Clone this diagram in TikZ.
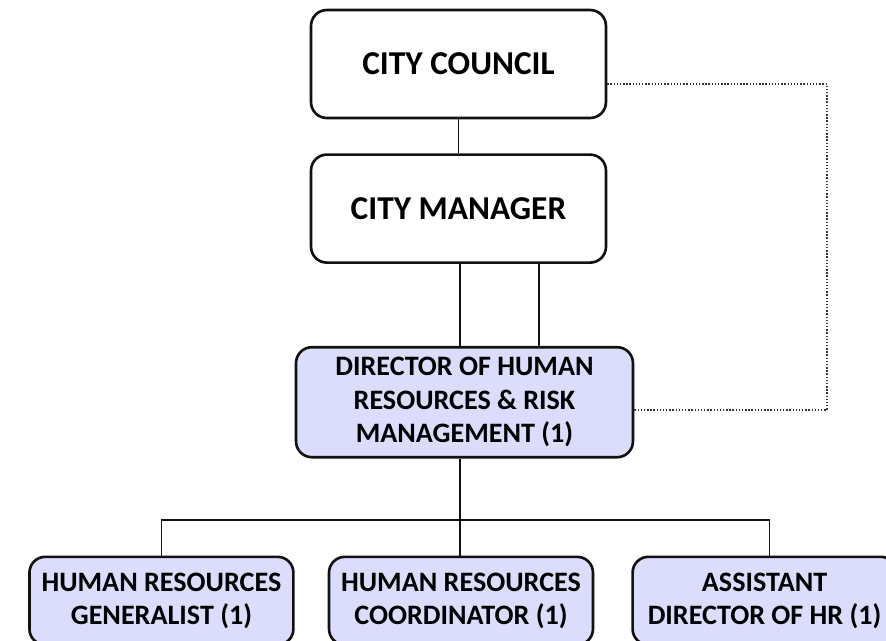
\documentclass[tikz,border=0pt]{standalone}
\usepackage{fontspec}
\setmainfont{Carlito}
\usepackage{xcolor}
\usetikzlibrary{positioning,calc}
\definecolor{orgLav}{HTML}{DCDCFC}
\definecolor{orgLine}{HTML}{111111}
\tikzset{
  org-box/.style={
    draw=orgLine, line width=1.5pt, rounded corners=9pt,
    fill=white, align=center, inner sep=2pt,
    font=\bfseries\fontsize{19}{23}\selectfont,
    minimum width=5.9cm, minimum height=2.16cm
  },
  org-lav/.style={org-box, fill=orgLav,
    font=\bfseries\fontsize{16}{19}\selectfont},
  org-link/.style={draw=orgLine, line width=0.9pt},
  org-dot/.style={draw=black!80, line width=0.8pt, densely dotted}
}
\begin{document}
\begin{tikzpicture}[x=0.02cm, y=-0.02cm]
\useasboundingbox (0,0) rectangle (886,640);
\clip (0,0) rectangle (886,640);
% --- top ---
\node[org-box] (council) at (458.5,64) {CITY COUNCIL};
\node[org-box, below=0.68cm of council] (manager) {CITY MANAGER};

% --- director ---
\node[org-lav, below=1.64cm of manager, xshift=0.12cm,
  minimum width=6.74cm, minimum height=2.2cm]
  (director) {DIRECTOR OF HUMAN\\RESOURCES \& RISK\\MANAGEMENT (1)};

% --- staff ---
\node[org-lav, below=1.94cm of director, xshift=-0.07cm,
  minimum width=5.28cm, minimum height=1.76cm]
  (coord) {HUMAN RESOURCES\\COORDINATOR (1)};
\node[org-lav, left=0.66cm of coord, minimum width=5.28cm,
  minimum height=1.76cm] (generalist) {HUMAN RESOURCES\\GENERALIST (1)};
\node[org-lav, right=0.74cm of coord, minimum width=5.28cm,
  minimum height=1.76cm] (assistant) {ASSISTANT\\DIRECTOR OF HR (1)};

% --- links ---
\coordinate (bus) at (460,520);
\coordinate (dtop) at (827,84);
\coordinate (dbot) at (827,410);
\draw[org-link] (council) -- (manager);
\draw[org-link] (manager.south -| bus) -- (director.north -| bus);
\draw[org-link] ([xshift=1.58cm]manager.south -| bus)
  -- ([xshift=1.58cm]director.north -| bus);
\draw[org-link] (director.south -| bus) -- (coord.north -| bus);
\draw[org-link] (generalist.north) -- (generalist.north |- bus)
  -- ([xshift=0.1cm]assistant.north |- bus) -- ([xshift=0.1cm]assistant.north);
\draw[org-dot] (council.east |- dtop) -- (dtop) -- (dbot)
  -- (director.east |- dbot);
\end{tikzpicture}
\end{document}
